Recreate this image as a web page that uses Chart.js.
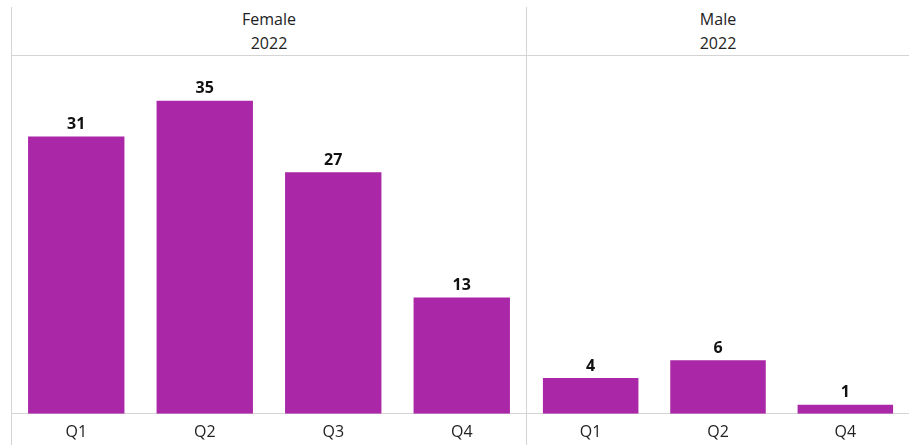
<!DOCTYPE html>
<html>
<head>
<meta charset="utf-8">
<script src="https://cdn.jsdelivr.net/npm/chart.js@4"></script>
<style>
  body { margin: 0; background: #fff; font-family: "Open Sans", sans-serif; }
  #wrap { position: relative; width: 909px; height: 445px; overflow: hidden; }
  .panel { position: absolute; top: 7px; height: 445px; border-left: 1px solid #d4d4d4; box-sizing: border-box; }
  .head { height: 49px; border-bottom: 1px solid #d4d4d4; text-align: center; font-size: 16px; color: #222; line-height: 24px; padding-top: 0px; box-sizing: border-box; }
  .plot { position: relative; height: 395px; }
</style>
</head>
<body>
<div id="wrap">
  <div class="panel" style="left:11px; width:515px;">
    <div class="head">Female<br>2022</div>
    <div class="plot"><canvas id="femaleChart"></canvas></div>
  </div>
  <div class="panel" style="left:526px; width:383px;">
    <div class="head">Male<br>2022</div>
    <div class="plot"><canvas id="maleChart"></canvas></div>
  </div>
</div>
<script>
const femaleQuarters = ['Q1', 'Q2', 'Q3', 'Q4'];
const femaleCounts = [31, 35, 27, 13];
const maleQuarters = ['Q1', 'Q2', 'Q4'];
const maleCounts = [4, 6, 1];
const barColor = '#aa27a7';

// value labels above each bar
const barLabels = {
    id: 'barLabels',
    afterDatasetsDraw(chart) {
        const ctx = chart.ctx;
        const meta = chart.getDatasetMeta(0);
        ctx.save();
        ctx.font = 'bold 16px "Open Sans", sans-serif';
        ctx.fillStyle = '#111';
        ctx.textAlign = 'center';
        ctx.textBaseline = 'bottom';
        meta.data.forEach((bar, i) => {
            ctx.fillText(chart.data.datasets[0].data[i], bar.x, bar.y - 4);
        });
        ctx.restore();
    }
};

function makeChart(id, labels, values) {
    return new Chart(document.getElementById(id), {
        type: 'bar',
        data: {
            labels: labels,
            datasets: [{
                data: values,
                backgroundColor: barColor,
                categoryPercentage: 1,
                barPercentage: 0.75,
            }]
        },
        options: {
            responsive: true,
            maintainAspectRatio: false,
            animation: false,
            layout: { padding: 0 },
            plugins: { legend: { display: false }, tooltip: { enabled: false } },
            scales: {
                y: { display: false, min: 0, max: 40 },
                x: {
                    grid: { display: false, drawTicks: false },
                    border: { display: true, color: '#d4d4d4' },
                    ticks: { color: '#222', font: { size: 16, family: '"Open Sans", sans-serif' }, padding: 9 }
                }
            }
        },
        plugins: [barLabels]
    });
}

makeChart('femaleChart', femaleQuarters, femaleCounts);
makeChart('maleChart', maleQuarters, maleCounts);
</script>
</body>
</html>
